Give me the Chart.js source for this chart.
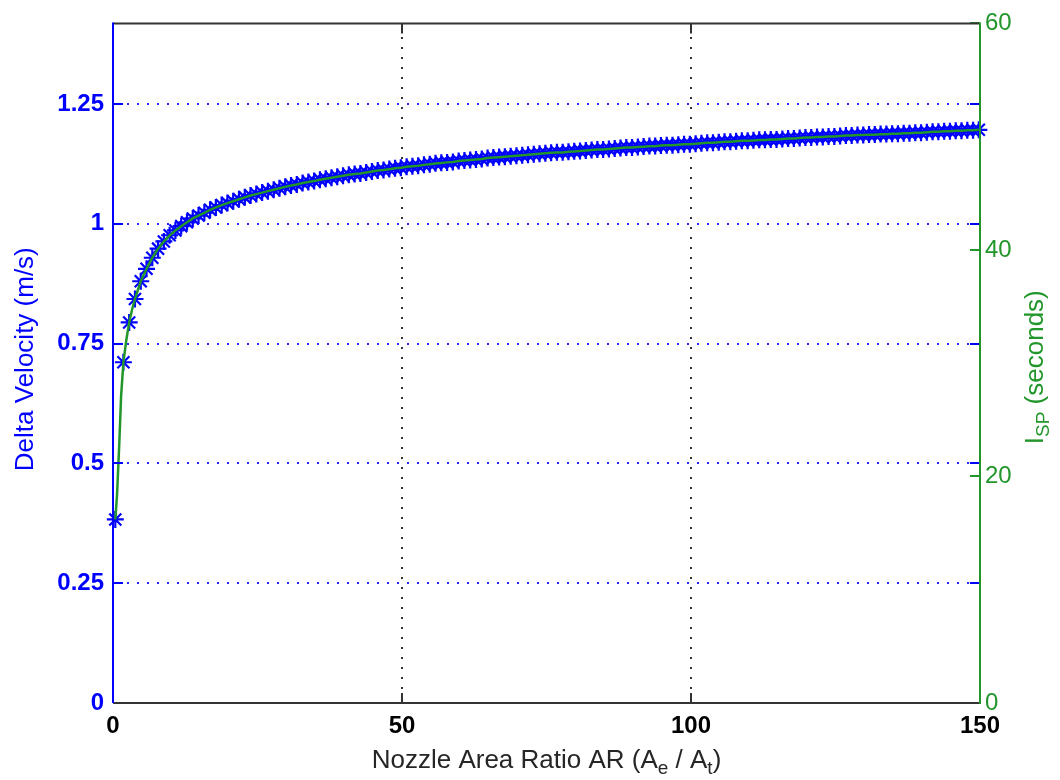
<!DOCTYPE html>
<html>
<head>
<meta charset="utf-8">
<title>Nozzle Area Ratio</title>
<script src="https://cdn.jsdelivr.net/npm/chart.js@4.4.1/dist/chart.umd.min.js"></script>
<style>
  html, body { margin: 0; padding: 0; background: #fff; }
  #wrap { width: 1060px; height: 780px; }
</style>
</head>
<body>
<div id="wrap"><canvas id="chartNozzle" width="1060" height="780"></canvas></div>
<script>
/* ===== Delta-V and Isp vs nozzle area ratio ===== */

var BLUE = '#0000ff';
var GREEN = '#22962a';
var FRAME = '#333333';

// ---- data ----
var areaRatio = [
  0.4, 1.8, 2.8, 3.8, 4.8, 5.8, 6.8, 7.8, 8.8, 9.8,
  10.8, 11.8, 12.8, 13.8, 14.8, 15.8, 16.8, 17.8, 18.8, 19.8,
  20.8, 21.8, 22.8, 23.8, 24.8, 25.8, 26.8, 27.8, 28.8, 29.8,
  30.8, 31.8, 32.8, 33.8, 34.8, 35.8, 36.8, 37.8, 38.8, 39.8,
  40.8, 41.8, 42.8, 43.8, 44.8, 45.8, 46.8, 47.8, 48.8, 49.8,
  50.8, 51.8, 52.8, 53.8, 54.8, 55.8, 56.8, 57.8, 58.8, 59.8,
  60.8, 61.8, 62.8, 63.8, 64.8, 65.8, 66.8, 67.8, 68.8, 69.8,
  70.8, 71.8, 72.8, 73.8, 74.8, 75.8, 76.8, 77.8, 78.8, 79.8,
  80.8, 81.8, 82.8, 83.8, 84.8, 85.8, 86.8, 87.8, 88.8, 89.8,
  90.8, 91.8, 92.8, 93.8, 94.8, 95.8, 96.8, 97.8, 98.8, 99.8,
  100.8, 101.8, 102.8, 103.8, 104.8, 105.8, 106.8, 107.8, 108.8, 109.8,
  110.8, 111.8, 112.8, 113.8, 114.8, 115.8, 116.8, 117.8, 118.8, 119.8,
  120.8, 121.8, 122.8, 123.8, 124.8, 125.8, 126.8, 127.8, 128.8, 129.8,
  130.8, 131.8, 132.8, 133.8, 134.8, 135.8, 136.8, 137.8, 138.8, 139.8,
  140.8, 141.8, 142.8, 143.8, 144.8, 145.8, 146.8, 147.8, 148.8, 149.8
];

// delta velocity, m/s
var deltaV = [
  0.383, 0.711, 0.794, 0.843, 0.880, 0.906, 0.929, 0.948, 0.963, 0.976,
  0.986, 0.995, 1.003, 1.011, 1.017, 1.023, 1.029, 1.034, 1.039, 1.043,
  1.047, 1.051, 1.055, 1.059, 1.062, 1.065, 1.068, 1.071, 1.074, 1.077,
  1.080, 1.082, 1.085, 1.087, 1.089, 1.092, 1.094, 1.096, 1.098, 1.100,
  1.102, 1.104, 1.105, 1.107, 1.109, 1.111, 1.112, 1.114, 1.116, 1.117,
  1.119, 1.120, 1.121, 1.123, 1.124, 1.126, 1.127, 1.128, 1.129, 1.131,
  1.132, 1.133, 1.134, 1.135, 1.137, 1.138, 1.139, 1.140, 1.141, 1.142,
  1.143, 1.144, 1.145, 1.146, 1.147, 1.148, 1.149, 1.149, 1.150, 1.151,
  1.152, 1.153, 1.154, 1.155, 1.155, 1.156, 1.157, 1.158, 1.159, 1.159,
  1.160, 1.161, 1.162, 1.162, 1.163, 1.164, 1.164, 1.165, 1.166, 1.166,
  1.167, 1.168, 1.169, 1.169, 1.170, 1.171, 1.171, 1.172, 1.173, 1.173,
  1.174, 1.175, 1.175, 1.176, 1.176, 1.177, 1.178, 1.178, 1.179, 1.180,
  1.180, 1.181, 1.181, 1.182, 1.182, 1.183, 1.184, 1.184, 1.185, 1.185,
  1.186, 1.186, 1.187, 1.187, 1.188, 1.188, 1.189, 1.189, 1.190, 1.190,
  1.191, 1.192, 1.192, 1.193, 1.193, 1.194, 1.194, 1.195, 1.195, 1.196
];

// specific impulse, seconds (same area ratios)
var isp = [
  16.20, 30.08, 33.59, 35.67, 37.23, 38.33, 39.31, 40.11, 40.74, 41.29,
  41.72, 42.10, 42.44, 42.78, 43.03, 43.28, 43.54, 43.75, 43.96, 44.13,
  44.30, 44.47, 44.64, 44.81, 44.93, 45.06, 45.19, 45.31, 45.44, 45.57,
  45.69, 45.78, 45.91, 45.99, 46.08, 46.20, 46.29, 46.37, 46.46, 46.54,
  46.63, 46.71, 46.75, 46.84, 46.92, 47.01, 47.05, 47.13, 47.22, 47.26,
  47.35, 47.39, 47.43, 47.51, 47.56, 47.64, 47.68, 47.73, 47.77, 47.85,
  47.89, 47.94, 47.98, 48.02, 48.11, 48.15, 48.19, 48.23, 48.28, 48.32,
  48.36, 48.40, 48.45, 48.49, 48.53, 48.57, 48.61, 48.61, 48.66, 48.70,
  48.74, 48.78, 48.83, 48.87, 48.87, 48.91, 48.95, 49.00, 49.04, 49.04,
  49.08, 49.12, 49.16, 49.16, 49.21, 49.25, 49.25, 49.29, 49.33, 49.33,
  49.38, 49.42, 49.46, 49.46, 49.50, 49.55, 49.55, 49.59, 49.63, 49.63,
  49.67, 49.71, 49.71, 49.76, 49.76, 49.80, 49.84, 49.84, 49.88, 49.93,
  49.93, 49.97, 49.97, 50.01, 50.01, 50.05, 50.10, 50.10, 50.14, 50.14,
  50.18, 50.18, 50.22, 50.22, 50.26, 50.26, 50.31, 50.31, 50.35, 50.35,
  50.39, 50.44, 50.44, 50.48, 50.48, 50.52, 50.52, 50.56, 50.56, 50.60
];

// extra Isp samples on the steep start of the curve
var ispFineAR = [0.7, 1.1, 1.4, 2.3, 3.3];
var ispFine   = [18.40, 23.06, 27.08, 32.03, 34.74];

var xTicks   = [0, 50, 100, 150];
var dvTicks  = [0, 0.25, 0.5, 0.75, 1, 1.25];
var ispTicks = [0, 20, 40, 60];

var X_MAX = 150, DV_MAX = 1.418, ISP_MAX = 60;

// ---- build point lists ----
var dvPoints = areaRatio.map(function(a, i) { return { x: a, y: deltaV[i] }; });
var ispPoints = areaRatio.map(function(a, i) { return { x: a, y: isp[i] }; })
  .concat(ispFineAR.map(function(a, i) { return { x: a, y: ispFine[i] }; }))
  .sort(function(p, q) { return p.x - q.x; });

function fixTicks(list) {
  return function(scale) { scale.ticks = list.map(function(v) { return { value: v }; }); };
}
function fixSize(w, h) {
  return function(scale) { if (w) scale.width = w; if (h) scale.height = h; };
}

function line(ctx, x1, y1, x2, y2) {
  ctx.beginPath(); ctx.moveTo(x1, y1); ctx.lineTo(x2, y2); ctx.stroke();
}

// dotted grid under the data
var gridPlugin = {
  id: 'dottedGrid',
  beforeDatasetsDraw: function(chart) {
    var ctx = chart.ctx, a = chart.chartArea;
    var sx = chart.scales.x, yl = chart.scales.yL;
    ctx.save();
    ctx.lineWidth = 2;
    ctx.setLineDash([2, 8]);
    ctx.strokeStyle = 'rgba(0,0,255,0.85)';
    dvTicks.forEach(function(v) {
      if (v === 0) return;
      var y = Math.round(yl.getPixelForValue(v));
      line(ctx, a.left + 4, y, a.right, y);
    });
    ctx.strokeStyle = '#333';
    xTicks.forEach(function(v) {
      if (v === 0 || v === X_MAX) return;
      var x = Math.round(sx.getPixelForValue(v));
      line(ctx, x, a.bottom - 4, x, a.top);
    });
    ctx.restore();
  }
};

// axes box, inward tick marks and axis titles
var framePlugin = {
  id: 'axesFrame',
  afterDatasetsDraw: function(chart) {
    var ctx = chart.ctx, a = chart.chartArea;
    var sx = chart.scales.x, yl = chart.scales.yL, yr = chart.scales.yR;
    var T = 10;
    ctx.save();
    ctx.lineWidth = 2;

    ctx.strokeStyle = BLUE;
    dvTicks.forEach(function(v) {
      var y = Math.round(yl.getPixelForValue(v));
      line(ctx, a.left, y, a.left + T, y);
      line(ctx, a.right - T, y, a.right, y);
    });
    ctx.strokeStyle = GREEN;
    ispTicks.forEach(function(v) {
      var y = Math.round(yr.getPixelForValue(v));
      line(ctx, a.right - T, y, a.right, y);
    });
    ctx.strokeStyle = FRAME;
    xTicks.forEach(function(v) {
      var x = Math.round(sx.getPixelForValue(v));
      line(ctx, x, a.bottom, x, a.bottom - T);
      line(ctx, x, a.top, x, a.top + T);
    });

    ctx.strokeStyle = FRAME;
    line(ctx, a.left, a.top, a.right, a.top);
    line(ctx, a.left, a.bottom, a.right, a.bottom);
    ctx.strokeStyle = BLUE;
    line(ctx, a.left, a.top - 1, a.left, a.bottom);
    ctx.strokeStyle = GREEN;
    line(ctx, a.right, a.top - 1, a.right, a.bottom + 1);
    ctx.restore();
  },
  afterDraw: function(chart) {
    var ctx = chart.ctx, a = chart.chartArea;
    var midX = (a.left + a.right) / 2, midY = (a.top + a.bottom) / 2;
    var font = '26px "Liberation Sans", Arial, sans-serif';
    var subFont = '19px "Liberation Sans", Arial, sans-serif';

    function drawRuns(runs, cx, cy, rotate, color) {
      ctx.save();
      ctx.fillStyle = color;
      ctx.textBaseline = 'alphabetic';
      ctx.textAlign = 'left';
      var w = 0;
      runs.forEach(function(r) { ctx.font = r.sub ? subFont : font; r.w = ctx.measureText(r.t).width; w += r.w; });
      ctx.translate(cx, cy);
      if (rotate) ctx.rotate(-Math.PI / 2);
      var x = -w / 2;
      runs.forEach(function(r) {
        ctx.font = r.sub ? subFont : font;
        ctx.fillText(r.t, x, r.sub ? 6 : 0);
        x += r.w;
      });
      ctx.restore();
    }

    drawRuns([{ t: 'Nozzle Area Ratio AR (A' }, { t: 'e', sub: true }, { t: ' / A' }, { t: 't', sub: true }, { t: ')' }],
      midX, 768, false, '#262626');
    drawRuns([{ t: 'Delta Velocity (m/s)' }], 33, midY - 4, true, BLUE);
    drawRuns([{ t: 'I' }, { t: 'SP', sub: true }, { t: ' (seconds)' }], 1043, midY + 4, true, GREEN);
  }
};

// ---- chart ----
var tickFont = { family: '"Liberation Sans", Arial, sans-serif', size: 24, weight: 'bold' };

var ctxNozzle = document.getElementById('chartNozzle').getContext('2d');
var chartNozzle = new Chart(ctxNozzle, {
  type: 'scatter',
  data: { datasets: [
    {
      label: 'Isp', data: ispPoints, yAxisID: 'yR', order: 0,
      showLine: true, borderColor: GREEN, borderWidth: 2.5, pointRadius: 0,
      tension: 0, clip: false
    },
    {
      label: 'Delta V', data: dvPoints, yAxisID: 'yL', order: 1,
      showLine: false, pointStyle: 'star', pointRadius: 8.5,
      borderColor: BLUE, backgroundColor: BLUE, borderWidth: 2.2, clip: false
    }
  ] },
  options: {
    responsive: false, animation: false, devicePixelRatio: 1,
    layout: { padding: { top: 20, left: 0, right: 0, bottom: 0 } },
    plugins: { legend: { display: false }, tooltip: { enabled: false } },
    scales: {
      x: {
        type: 'linear', position: 'bottom', min: 0, max: X_MAX,
        afterBuildTicks: fixTicks(xTicks), afterFit: fixSize(0, 77),
        grid: { display: false, drawTicks: false }, border: { display: false },
        ticks: { color: '#000', padding: 9, maxRotation: 0, font: tickFont,
          callback: function(v) { return String(v); } }
      },
      yL: {
        type: 'linear', position: 'left', min: 0, max: DV_MAX,
        afterBuildTicks: fixTicks(dvTicks), afterFit: fixSize(113, 0),
        grid: { display: false, drawTicks: false }, border: { display: false },
        ticks: { color: BLUE, padding: 9, font: tickFont,
          callback: function(v) { return String(v); } }
      },
      yR: {
        type: 'linear', position: 'right', min: 0, max: ISP_MAX,
        afterBuildTicks: fixTicks(ispTicks), afterFit: fixSize(80, 0),
        grid: { display: false, drawTicks: false }, border: { display: false },
        ticks: { color: GREEN, padding: 5,
          font: { family: '"Liberation Sans", Arial, sans-serif', size: 24 },
          callback: function(v) { return String(v); } }
      }
    }
  },
  plugins: [gridPlugin, framePlugin]
});
</script>
</body>
</html>
